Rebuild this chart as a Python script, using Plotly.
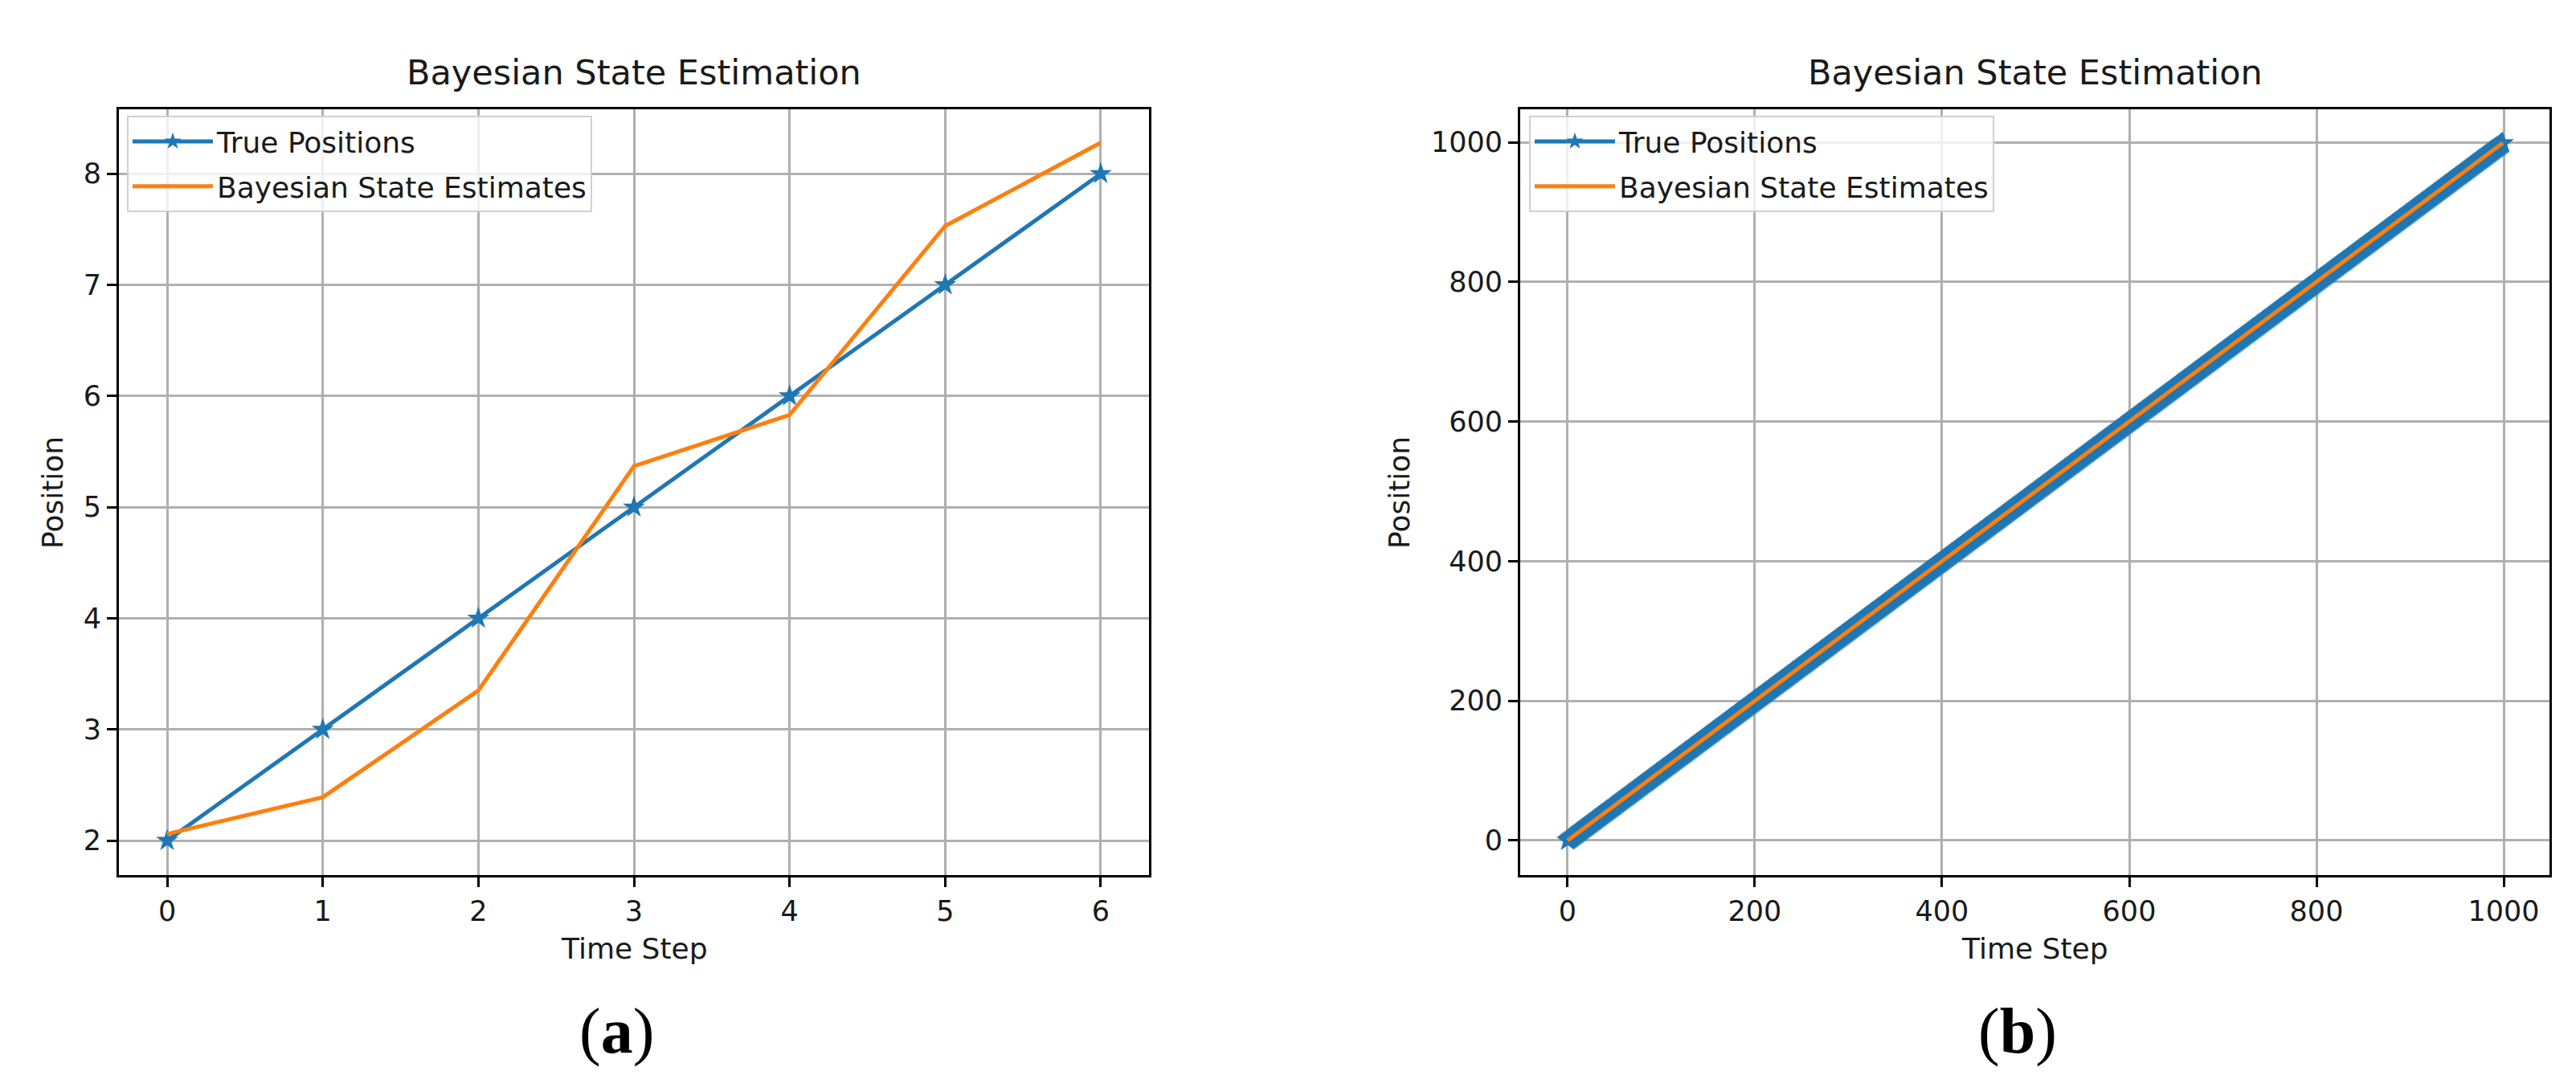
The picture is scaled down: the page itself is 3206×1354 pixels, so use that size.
import plotly.graph_objects as go

# ---- data: panel (a)
time_steps_a = [0, 1, 2, 3, 4, 5, 6]
true_positions_a = [2, 3, 4, 5, 6, 7, 8]
estimates_a = [2.06, 2.39, 3.35, 5.37, 5.83, 7.53, 8.28]

# ---- data: panel (b) (1000 steps, true position equals the step index)
time_steps_b = list(range(1000))
true_positions_b = list(range(1000))
estimates_b = list(range(1000))

x_ticks_a = [0, 1, 2, 3, 4, 5, 6]
y_ticks_a = [2, 3, 4, 5, 6, 7, 8]
x_ticks_b = [0, 200, 400, 600, 800, 1000]
y_ticks_b = [0, 200, 400, 600, 800, 1000]

W, H = 3206, 1354
BLUE = "#1f77b4"
ORANGE = "#ff7f0e"
FONT = "DejaVu Sans"

def px(x):
    return x / W

def py(y):
    return 1 - y / H

fig = go.Figure()

fig.add_trace(go.Scatter(x=time_steps_a, y=true_positions_a, mode="lines+markers",
                         name="True Positions", line=dict(color=BLUE, width=5),
                         marker=dict(symbol="star", size=21, color=BLUE),
                         xaxis="x", yaxis="y", legend="legend", legendgroup="a1"))
fig.add_trace(go.Scatter(x=time_steps_a, y=estimates_a, mode="lines",
                         name="Bayesian State Estimates", line=dict(color=ORANGE, width=5),
                         xaxis="x", yaxis="y", legend="legend", legendgroup="a2"))
fig.add_trace(go.Scatter(x=time_steps_b, y=true_positions_b, mode="lines+markers",
                         name="True Positions", line=dict(color=BLUE, width=5),
                         marker=dict(symbol="star", size=21, color=BLUE),
                         xaxis="x2", yaxis="y2", legend="legend2", legendgroup="b1"))
fig.add_trace(go.Scatter(x=time_steps_b, y=estimates_b, mode="lines",
                         name="Bayesian State Estimates", line=dict(color=ORANGE, width=5),
                         xaxis="x2", yaxis="y2", legend="legend2", legendgroup="b2"))

ax_common = dict(showgrid=True, gridcolor="#b0b0b0", gridwidth=2.8,
                 showline=True, linecolor="black", linewidth=2.8, mirror=True,
                 ticks="outside", ticklen=12, tickwidth=2.8, tickcolor="black",
                 tickfont=dict(family=FONT, size=35, color="#1a1a1a"),
                 zeroline=False)

L = (140, 1422)
R = (1884, 3165)
T, B = 128, 1081

legend_common = dict(font=dict(family=FONT, size=36, color="#1a1a1a"),
                     bgcolor="rgba(255,255,255,0.8)", bordercolor="#d0d0d0",
                     borderwidth=2, xanchor="left", yanchor="top",
                     xref="paper", yref="paper", tracegroupgap=6,
                     itemwidth=100)

fig.update_layout(
    width=W, height=H, autosize=False,
    margin=dict(l=0, r=0, t=0, b=0),
    paper_bgcolor="white", plot_bgcolor="white",
    font=dict(family=FONT, color="black"),
    xaxis=dict(domain=[px(L[0]), px(L[1])], range=[-0.31, 6.31], tickvals=x_ticks_a,
               anchor="y", **ax_common),
    yaxis=dict(domain=[py(B), py(T)], range=[1.69, 8.58], tickvals=y_ticks_a,
               anchor="x", **ax_common),
    xaxis2=dict(domain=[px(R[0]), px(R[1])], range=[-50.6, 1048.9], tickvals=x_ticks_b,
                anchor="y2", **ax_common),
    yaxis2=dict(domain=[py(B), py(T)], range=[-49.5, 1047.2], tickvals=y_ticks_b,
                anchor="x2", **ax_common),
    legend=dict(x=px(150), y=py(136), **legend_common),
    legend2=dict(x=px(1895), y=py(136), **legend_common),
    showlegend=True,
)

annotations = []
for (l, r), lab in [(L, "a"), (R, "b")]:
    cx = (l + r) / 2
    annotations.append(dict(text="Bayesian State Estimation", x=px(cx), y=py(82),
                            xref="paper", yref="paper", showarrow=False,
                            xanchor="center", yanchor="middle",
                            font=dict(family=FONT, size=43, color="#1a1a1a")))
    annotations.append(dict(text="Time Step", x=px(cx), y=py(1172),
                            xref="paper", yref="paper", showarrow=False,
                            xanchor="center", yanchor="middle",
                            font=dict(family=FONT, size=36, color="#1a1a1a")))
    annotations.append(dict(text="(<b>%s</b>)" % lab, x=px(cx - 22), y=py(1275),
                            xref="paper", yref="paper", showarrow=False,
                            xanchor="center", yanchor="middle",
                            font=dict(family="Liberation Serif", size=80, color="black")))
annotations.append(dict(text="Position", x=px(57), y=py(605), xref="paper", yref="paper",
                        showarrow=False, textangle=-90, xanchor="center", yanchor="middle",
                        font=dict(family=FONT, size=36, color="#1a1a1a")))
annotations.append(dict(text="Position", x=px(1733), y=py(605), xref="paper", yref="paper",
                        showarrow=False, textangle=-90, xanchor="center", yanchor="middle",
                        font=dict(family=FONT, size=36, color="#1a1a1a")))
fig.update_layout(annotations=annotations)

fig.write_html("out.html")
